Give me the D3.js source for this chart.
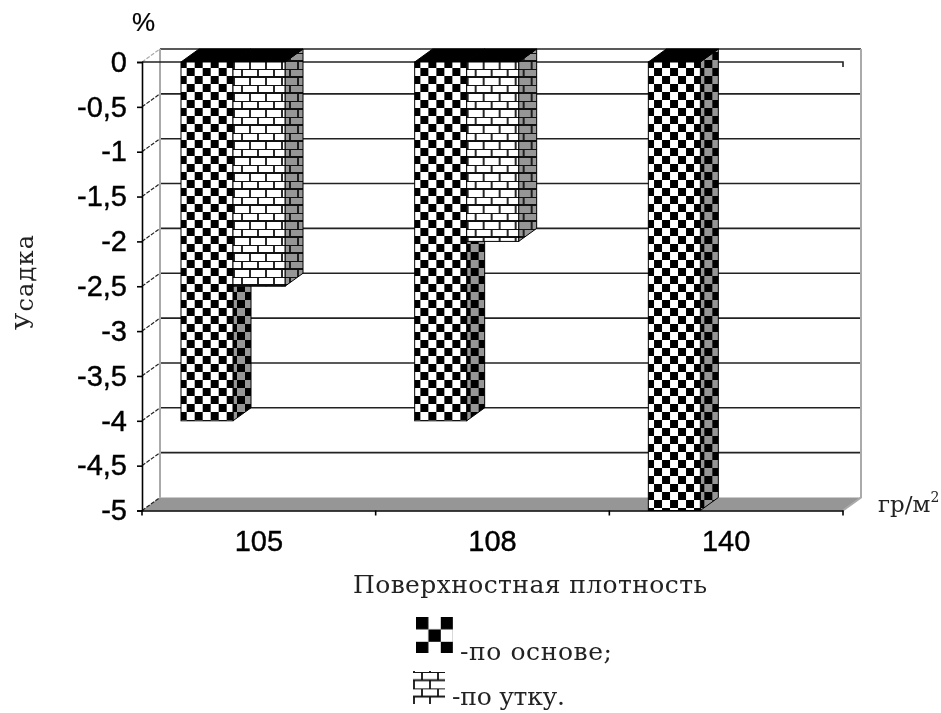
<!DOCTYPE html>
<html>
<head>
<meta charset="utf-8">
<script src="https://cdn.jsdelivr.net/npm/d3@7"></script>
<style>
body { margin: 0; background: #fff; }
svg { display: block; filter: blur(0.4px); }
.sans { font-family: "Liberation Sans", Arial, sans-serif; stroke: #000; stroke-width: 0.4px; }
.serif { font-family: "DejaVu Serif", "Liberation Serif", serif; fill: #222; }
</style>
</head>
<body>
<script>
var categories = ["105", "108", "140"];
var warpValues = [-4, -4, -5];
var weftValues = [-2.5, -2, null];
var yTicks = [0, -0.5, -1, -1.5, -2, -2.5, -3, -3.5, -4, -4.5, -5];

var width = 941, height = 713;
var depthX = 18, depthY = -13;
var left = 142, right = 843, top0 = 62, bottom = 510.5;
var barWidth = 52, barStart = 39;
var grey = "#969696";

var svg = d3.select("body").append("svg")
    .attr("width", width)
    .attr("height", height);

var y = d3.scaleLinear().domain([0, -5]).range([top0, bottom]);
var x = d3.scaleBand().domain(categories).range([left, right]);
var series = d3.scaleBand().domain(["warp", "weft"]).range([0, barWidth * 2]);

// patterns, units follow each bar's own translate
var defs = svg.append("defs");

function checker(id, cellSize, light, ox, oy) {
    var p = defs.append("pattern")
        .attr("id", id)
        .attr("patternUnits", "userSpaceOnUse")
        .attr("x", ox)
        .attr("y", oy)
        .attr("width", cellSize * 2)
        .attr("height", cellSize * 2);
    p.append("rect").attr("width", cellSize * 2).attr("height", cellSize * 2).attr("fill", light);
    p.append("rect").attr("width", cellSize).attr("height", cellSize).attr("fill", "#000");
    p.append("rect").attr("x", cellSize).attr("y", cellSize).attr("width", cellSize).attr("height", cellSize).attr("fill", "#000");
}

function brick(id, cellW, cellH, light, lineW, oy) {
    var p = defs.append("pattern")
        .attr("id", id)
        .attr("patternUnits", "userSpaceOnUse")
        .attr("x", 5)
        .attr("y", oy)
        .attr("width", cellW)
        .attr("height", cellH * 2);
    p.append("rect").attr("width", cellW).attr("height", cellH * 2).attr("fill", light);
    p.append("path")
        .attr("d", "M0 0H" + cellW + "M0 " + cellH + "H" + cellW
            + "M" + (cellW / 4) + " 0V" + cellH
            + "M" + (cellW * 3 / 4) + " " + cellH + "V" + (cellH * 2))
        .attr("stroke", "#111")
        .attr("stroke-width", lineW)
        .attr("fill", "none");
}

checker("checkFront", 8, "#fff", 5.7, 6);
checker("checkSide", 8, grey, 0, 6);
brick("brickFront", 16, 8, "#fff", 1.8, 7);
brick("brickSide", 16, 8, grey, 1.8, 7);
checker("checkLegend", 12.4, "#fff", 0, 0);
brick("brickLegend", 16, 8.2, "#fff", 1.8, 1);

// back wall, floor
var backTop = top0 + depthY, backBottom = bottom + depthY;
var line = d3.line();

svg.append("path")
    .attr("d", line([[left, bottom], [left + depthX, backBottom], [right + depthX, backBottom], [right, bottom]]) + "Z")
    .attr("fill", grey);

// gridlines on back wall and the slanted bit on the left wall
var grid = svg.append("g").selectAll("g").data(yTicks).enter().append("g");
grid.filter(function(d) { return d > -5; }).append("line")
    .attr("x1", left + depthX)
    .attr("x2", right + depthX)
    .attr("y1", function(d) { return y(d) + depthY; })
    .attr("y2", function(d) { return y(d) + depthY; })
    .attr("stroke", "#222")
    .attr("stroke-width", 1.6);
grid.append("line")
    .attr("x1", left)
    .attr("x2", left + depthX)
    .attr("y1", function(d) { return y(d); })
    .attr("y2", function(d) { return y(d) + depthY; })
    .attr("stroke", function(d) { return d == 0 ? "#aaa" : "#222"; })
    .attr("stroke-width", 1.2)
    .attr("stroke-dasharray", "4 1.5");

// wall edges
svg.append("path")
    .attr("d", line([[left + depthX, backTop], [left + depthX, backBottom]]))
    .attr("stroke", "#aaa").attr("stroke-width", 2).attr("fill", "none");
svg.append("path")
    .attr("d", line([[right + depthX, backTop], [right + depthX, backBottom], [right, bottom]]))
    .attr("stroke", "#aaa").attr("stroke-width", 2).attr("fill", "none");

// front zero line with its end tick
svg.append("path")
    .attr("d", line([[left, top0], [right, top0], [right, top0 + 5]]))
    .attr("stroke", "#222").attr("stroke-width", 1.6).attr("fill", "none");

// y axis
var yAxis = d3.axisLeft(y)
    .tickValues(yTicks)
    .tickSize(5)
    .tickFormat(function(d) { return String(d).replace(".", ","); });
var yG = svg.append("g").attr("transform", "translate(" + left + ",0)").call(yAxis);
yG.selectAll("path, line").attr("stroke", "#000").attr("stroke-width", 1.6);
yG.selectAll("text")
    .attr("class", "sans")
    .attr("font-size", 29)
    .attr("x", -15)
    .attr("fill", "#000");

// x axis
var xAxis = d3.axisBottom(x).tickSize(0).tickPadding(20);
var xG = svg.append("g").attr("transform", "translate(0," + bottom + ")").call(xAxis);
xG.selectAll("path").attr("stroke", "#000").attr("stroke-width", 1.6);
xG.selectAll("text").attr("class", "sans").attr("font-size", 29).attr("fill", "#000");
svg.append("g").selectAll("line")
    .data(d3.range(categories.length + 1))
    .enter().append("line")
    .attr("x1", function(d) { return left + d * x.step(); })
    .attr("x2", function(d) { return left + d * x.step(); })
    .attr("y1", bottom)
    .attr("y2", bottom + 5)
    .attr("stroke", "#000")
    .attr("stroke-width", 1.6);

// bars
function drawBar(cat, key, value, front, side) {
    var bx = x(cat) + barStart + series(key);
    var h = y(value) - y(0);
    var w = series.bandwidth();
    var g = svg.append("g").attr("transform", "translate(" + bx + "," + y(0) + ")");
    g.append("path")
        .attr("d", line([[w, 0], [w + depthX, depthY], [w + depthX, h + depthY], [w, h]]) + "Z")
        .attr("fill", "url(#" + side + ")")
        .attr("stroke", "#000")
        .attr("stroke-width", 1);
    g.append("path")
        .attr("d", line([[0, 0], [depthX, depthY], [w + depthX, depthY], [w, 0]]) + "Z")
        .attr("fill", "#000")
        .attr("stroke", "#000")
        .attr("stroke-width", 1);
    g.append("rect")
        .attr("width", w)
        .attr("height", h)
        .attr("fill", "url(#" + front + ")")
        .attr("stroke", "#000")
        .attr("stroke-width", 1);
}

categories.forEach(function(cat, i) {
    drawBar(cat, "warp", warpValues[i], "checkFront", "checkSide");
    if (weftValues[i] !== null) drawBar(cat, "weft", weftValues[i], "brickFront", "brickSide");
});

// texts, serif ones forced to the width they have in the picture
function label(str, px, py, size, cls, len) {
    var t = svg.append("text")
        .attr("class", cls)
        .attr("x", px)
        .attr("y", py)
        .attr("font-size", size)
        .text(str);
    if (len) t.attr("textLength", len);
    return t;
}

label("%", 132, 31, 26, "sans").style("stroke-width", "0.2px");
label("Усадка", 0, 0, 24, "serif", 95)
    .attr("transform", "translate(33,330) rotate(-90)");
var unit = label("гр/м", 878, 512, 23, "serif");
unit.append("tspan").attr("dy", -10).attr("font-size", 14).text("2");
label("Поверхностная плотность", 353, 593, 25, "serif", 354);
label("-по основе;", 460, 660, 25, "serif", 152);
label("-по утку.", 452, 705, 25, "serif", 113);

// legend swatches
svg.append("g").attr("transform", "translate(416,617)")
    .append("rect").attr("width", 37).attr("height", 36).attr("fill", "url(#checkLegend)");
svg.append("g").attr("transform", "translate(413,671)")
    .append("rect").attr("width", 32).attr("height", 33).attr("fill", "url(#brickLegend)");
</script>
</body>
</html>
